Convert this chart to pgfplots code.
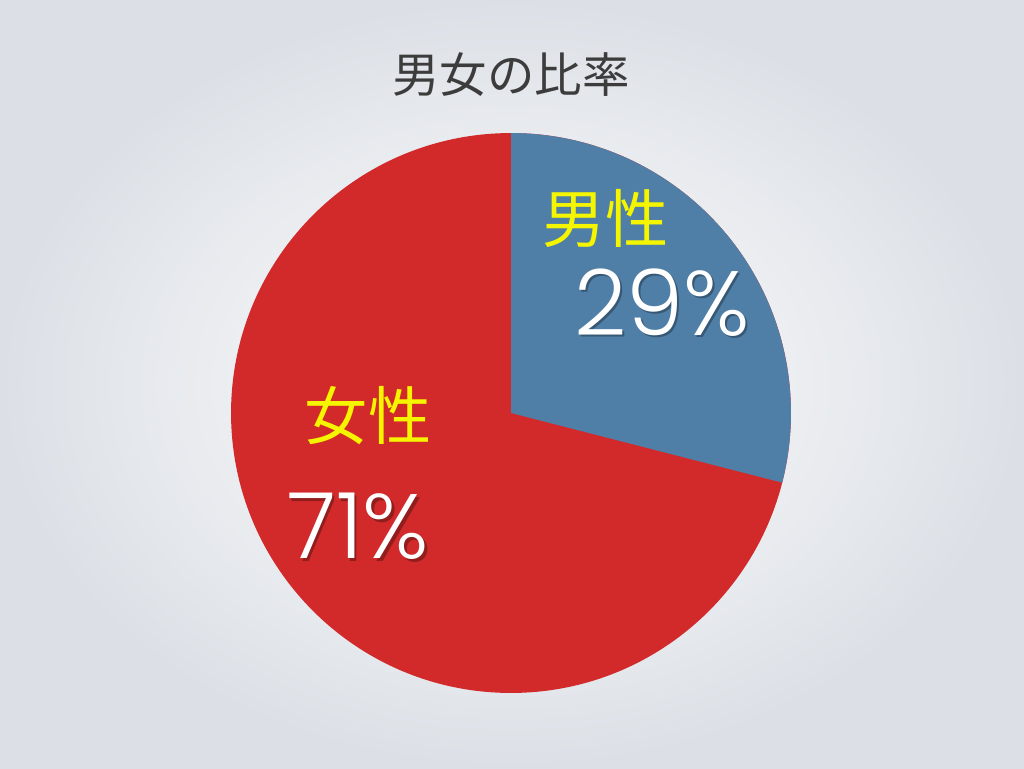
\documentclass[border=0pt]{standalone}
\usepackage{pgfplots}
\usepackage{pgfplotstable}
\pgfplotsset{compat=1.18}
\usepackage{fontspec}
\setmainfont{Noto Sans CJK JP}
\newfontfamily\cjk{Noto Sans CJK JP}
\newfontfamily\thin{Poppins Light}
\definecolor{male}{HTML}{4F7FA7}
\definecolor{female}{HTML}{D22A2A}
\definecolor{lbl}{HTML}{F5F500}
\definecolor{ttl}{HTML}{3C3C3C}
\definecolor{bgout}{HTML}{DCE0E6}

% share of each slice, in percent
\pgfplotstableread{
name   value
male   29
female 71
}\shares

\begin{document}
\begin{tikzpicture}[x=0.02cm,y=0.02cm]
% background, 1024 x 768 px, pie centre at (511,413) from top-left
\shade[inner color=white, outer color=bgout]
  (-511,-355) rectangle (513,413);
\begin{axis}[
    at={(0,0)}, anchor=origin,
    x=5.6cm, y=5.6cm,
    xmin=-1, xmax=1, ymin=-1, ymax=1,
    hide axis, clip=false,
]
\pgfplotstablegetelem{0}{value}\of\shares
\pgfmathsetmacro{\male}{\pgfplotsretval}
\pgfmathsetmacro{\endangle}{90-3.6*\male}
\fill[female] (axis cs:0,0) -- (axis cs:0,1)
  arc[start angle=90, end angle=\endangle-360, radius=5.6cm] -- cycle;
\fill[male] (axis cs:0,0) -- (axis cs:0,1)
  arc[start angle=90, end angle=\endangle, radius=5.6cm] -- cycle;
% labels
\node[lbl, font=\cjk\fontsize{36}{40}\selectfont] at (axis cs:0.338,0.695) {男性};
\node[black, opacity=0.3, font=\thin\fontsize{52}{58}\selectfont] at (axis cs:0.548,0.386) {29\%};
\node[white, font=\thin\fontsize{52}{58}\selectfont] at (axis cs:0.54,0.395) {29\%};
\node[lbl, font=\cjk\fontsize{36}{40}\selectfont] at (axis cs:-0.51,-0.01) {女性};
\node[black, opacity=0.3, font=\thin\fontsize{52}{58}\selectfont] at (axis cs:-0.537,-0.414) {71\%};
\node[white, font=\thin\fontsize{52}{58}\selectfont] at (axis cs:-0.545,-0.405) {71\%};
\end{axis}
\node[ttl, font=\cjk\fontsize{27}{30}\selectfont] at (0,338) {男女の比率};
\end{tikzpicture}
\end{document}
